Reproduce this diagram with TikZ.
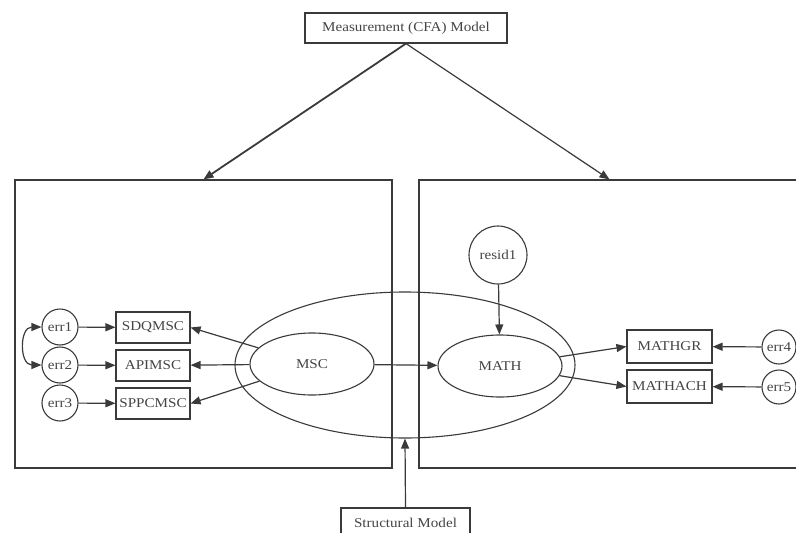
\documentclass[tikz,border=0pt]{standalone}
\usepackage{fontspec}
\setmainfont{Liberation Serif}[FakeStretch=1.12]
\usetikzlibrary{arrows.meta,shapes.geometric}
\definecolor{ln}{HTML}{3a3a3a}
\definecolor{tx}{HTML}{444444}
\begin{document}
\begin{tikzpicture}[x=1pt,y=-1pt,
  every node/.style={font=\fontsize{13.5}{15}\selectfont, text=tx},
  box/.style={draw=ln, line width=1.1pt, rectangle, inner sep=0pt},
  circ/.style={draw=ln, line width=1.1pt, circle, inner sep=0pt, minimum size=36pt},
  lat/.style={draw=ln, line width=1.1pt, ellipse, inner sep=0pt, minimum width=124pt, minimum height=62pt},
  panel/.style={draw=ln, line width=1.2pt, rectangle, inner sep=0pt},
  tip/.tip={Triangle[length=10pt,width=8pt]},
  conn/.style={draw=ln, line width=1.2pt, -tip},
]
\useasboundingbox (0,0) rectangle (796,533);
\clip (0,0) rectangle (796,533);
\node[box, minimum width=202pt, minimum height=30pt] (meas) at (406,28) {Measurement (CFA) Model};
\node[panel, minimum width=377pt, minimum height=288pt] (lp) at (203.5,324) {};
\node[panel, minimum width=381pt, minimum height=288pt] (rp) at (609.5,324) {};
\node[lat, minimum width=340pt, minimum height=146pt] (big) at (405,365) {};
\node[lat] (msc) at (312,364) {MSC};
\node[lat] (math) at (500,366) {MATH};
\node[circ, minimum size=58pt] (resid) at (498,255) {resid1};
\node[box, minimum width=74pt, minimum height=31pt] (sdq) at (153,327.5) {SDQMSC};
\node[box, minimum width=74pt, minimum height=31pt] (api) at (153,365.5) {APIMSC};
\node[box, minimum width=74pt, minimum height=31pt] (spp) at (153,403.5) {SPPCMSC};
\node[circ] (err1) at (60,327) {err1};
\node[circ] (err2) at (60,365) {err2};
\node[circ] (err3) at (60,403) {err3};
\node[box, minimum width=85pt, minimum height=33pt] (mgr) at (669.5,346.5) {MATHGR};
\node[box, minimum width=85pt, minimum height=33pt] (mach) at (669.5,386.5) {MATHACH};
\node[circ, minimum size=34pt] (err4) at (779,347) {err4};
\node[circ, minimum size=34pt] (err5) at (779,387) {err5};
\node[box, minimum width=129pt, minimum height=30pt] (sm) at (405.5,523) {Structural Model};

\draw[conn, line width=1.8pt] (meas.south) -- (lp.north);
\draw[conn] (meas.south) -- (rp.north);
\draw[conn] (sm.north) -- (big.south);
\draw[conn] (err1) -- (sdq);
\draw[conn] (err2) -- (api);
\draw[conn] (err3) -- (spp);
\draw[conn] (msc) -- (sdq.east);
\draw[conn] (msc) -- (api);
\draw[conn] (msc) -- (spp.east);
\draw[conn] (msc) -- (math);
\draw[conn] (resid) -- (math);
\draw[conn] (math) -- (mgr.west);
\draw[conn] (math) -- (mach.west);
\draw[conn] (err4) -- (mgr);
\draw[conn] (err5) -- (mach);
\draw[conn, tip-tip] (err1.west) to[out=180, in=180, looseness=1.5] (err2.west);
\end{tikzpicture}
\end{document}
